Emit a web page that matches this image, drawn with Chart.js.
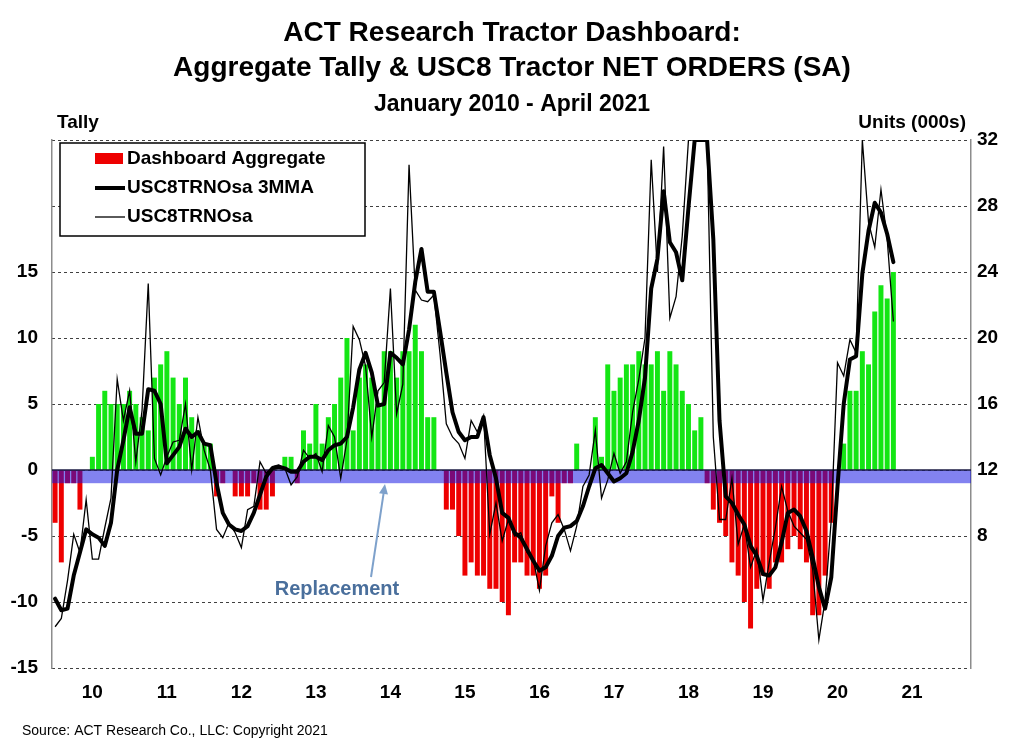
<!DOCTYPE html>
<html>
<head>
<meta charset="utf-8">
<script src="https://cdn.jsdelivr.net/npm/chart.js"></script>
<style>
  html, body { margin: 0; padding: 0; background: #ffffff; }
  #wrap { width: 1024px; height: 744px; }
</style>
</head>
<body>
<div id="wrap"><canvas id="c" width="1024" height="744"></canvas></div>
<script>
// ---- Data ----
const yearLabels = ['10','11','12','13','14','15','16','17','18','19','20','21'];
const firstYear = 2010;
const axisMonths = 148;            // Jan 2010 .. Apr 2022 (axis extent)

// Dashboard Aggregate tally (left axis), Jan 2010 - Apr 2021
const tally = [
  -4,-7,-1,-1,-3,0,1,5,6,5,5,5,
  6,5,4,3,7,8,9,7,5,7,4,3,
  2,2,-2,-1,0,-2,-2,-2,-1,-3,-3,-2,
  0,1,1,-1,3,2,5,2,4,5,7,10,
  3,7,8,7,5,9,9,7,9,9,11,9,
  4,4,0,-3,-3,-5,-8,-7,-8,-8,-9,-9,
  -10,-11,-7,-7,-8,-8,-9,-8,-2,-4,-1,-1,
  2,0,0,4,1,8,6,7,8,8,9,8,
  8,9,6,9,8,6,5,3,4,-1,-3,-4,
  -5,-7,-8,-10,-12,-9,-8,-9,-7,-7,-6,-5,
  -6,-7,-11,-11,-8,-4,0,2,6,6,9,8,
  12,14,13,15
];

// USC8TRNOsa monthly (right axis, 000s units)
const orders = [
  2.5,3.0,5.3,8.1,7.0,10.2,6.6,6.6,8.5,10.3,17.5,15.0,
  16.8,12.5,15.6,23.3,12.7,11.7,12.8,13.7,13.8,16.0,12.0,15.2,
  13.2,12.0,8.4,7.9,8.8,8.2,7.3,9.6,9.8,12.5,11.8,12.2,
  12.3,12.1,11.1,11.6,13.2,12.7,13.0,11.9,14.7,14.0,11.5,13.8,
  20.7,19.9,18.3,14.0,16.8,17.3,23.0,15.4,17.2,30.5,22.9,22.3,
  22.2,22.6,19.0,14.8,14.0,13.6,12.7,15.0,14.3,15.3,8.1,10.0,
  7.7,9.0,8.0,8.2,7.0,6.6,4.7,7.4,8.8,9.3,8.4,7.1,
  8.6,11.0,11.7,14.4,10.3,11.4,13.0,11.8,12.5,15.5,17.5,20.0,
  30.8,24.0,31.6,21.2,22.5,26.2,32,32,32,32,14.0,9.0,
  9.0,11.5,7.5,8.7,6.1,7.2,4.1,6.4,8.5,11.0,9.5,8.6,
  8.2,7.8,6.0,1.7,4.1,9.0,18.5,17.7,19.9,19.1,32.0,27.0,
  25.5,29.0,26.0,21.0
];

// USC8TRNOsa 3MMA (right axis)
const orders3mma = [
  4.2,3.5,3.6,5.6,7.0,8.4,8.1,7.9,7.4,8.8,12.0,13.8,
  15.8,14.2,14.2,16.9,16.8,16.0,12.4,12.9,13.4,14.5,14.0,14.3,
  13.6,13.5,11.2,9.4,8.7,8.4,8.3,8.6,9.4,10.5,11.6,12.1,
  12.2,12.1,11.9,11.9,12.5,12.8,12.8,12.6,13.2,13.5,13.6,14.0,
  15.8,18.1,19.1,17.9,15.9,16.0,19.1,18.8,18.4,20.5,23.4,25.4,
  22.8,22.8,20.4,17.9,15.5,14.3,13.8,14.0,14.0,15.2,12.9,11.5,
  9.4,9.1,8.2,7.9,7.2,6.5,5.9,6.1,6.8,8.0,8.5,8.6,
  8.9,9.8,11.0,12.1,12.3,11.8,11.3,11.5,11.8,13.1,15.0,17.6,
  23.0,24.8,28.9,25.8,25.2,23.5,27.9,32,32,32,26.0,15.0,
  10.4,10.0,9.3,8.7,7.4,6.8,5.7,5.6,6.1,7.6,9.4,9.6,
  9.2,8.3,6.7,4.9,3.6,5.5,11.0,16.0,18.7,18.9,23.9,26.5,
  28.2,27.6,26.3,24.6
];

// ---- Categories (months) ----
const months = [];
for (let k = 0; k < axisMonths; k++) {
  months.push((firstYear + Math.floor(k / 12)) + '-' + String(k % 12 + 1).padStart(2, '0'));
}

const FONT = '"Liberation Sans", Arial, Helvetica, sans-serif';
const RED = '#EE0000';
const GREEN = '#14E614';

const overlay = {
  id: 'overlay',
  afterDatasetDraw(chart, args) {
    if (args.index !== 0) return;
    const { ctx, chartArea: a } = chart;
    const y = chart.scales.y;
    const y0 = y.getPixelForValue(0), y1 = y.getPixelForValue(-1);
    ctx.save();
    ctx.fillStyle = 'rgba(19,19,226,0.53)';
    ctx.fillRect(a.left, y0, a.right - a.left, y1 - y0);
    ctx.strokeStyle = '#1c1c44';
    ctx.lineWidth = 1.5;
    ctx.beginPath(); ctx.moveTo(a.left, y0); ctx.lineTo(a.right, y0); ctx.stroke();
    ctx.restore();
  },
  afterDraw(chart) {
    const ctx = chart.ctx;
    ctx.save();
    ctx.fillStyle = '#000';
    ctx.textBaseline = 'middle';
    ctx.textAlign = 'center';
    ctx.font = 'bold 28px ' + FONT;
    ctx.fillText('ACT Research Tractor Dashboard:', 512, 33);
    ctx.fillText('Aggregate Tally & USC8 Tractor NET ORDERS (SA)', 512, 68);
    ctx.font = 'bold 23px ' + FONT;
    ctx.fillText('January 2010 - April 2021', 512, 105);

    ctx.font = 'bold 19px ' + FONT;
    ctx.textAlign = 'left';
    ctx.fillText('Tally', 57, 123);
    ctx.textAlign = 'right';
    ctx.fillText('Units (000s)', 966, 123);

    // Legend box
    ctx.fillStyle = '#fff';
    ctx.fillRect(60, 143, 305, 93);
    ctx.strokeStyle = '#000';
    ctx.lineWidth = 1.5;
    ctx.strokeRect(60, 143, 305, 93);
    ctx.fillStyle = RED;
    ctx.fillRect(95, 153, 28, 11);
    ctx.strokeStyle = '#000';
    ctx.lineWidth = 4;
    ctx.beginPath(); ctx.moveTo(95, 188); ctx.lineTo(125, 188); ctx.stroke();
    ctx.lineWidth = 1.3;
    ctx.beginPath(); ctx.moveTo(95, 217); ctx.lineTo(125, 217); ctx.stroke();
    ctx.fillStyle = '#000';
    ctx.textAlign = 'left';
    ctx.font = 'bold 19px ' + FONT;
    ctx.fillText('Dashboard Aggregate', 127, 159);
    ctx.fillText('USC8TRNOsa 3MMA', 127, 188);
    ctx.fillText('USC8TRNOsa', 127, 217);

    // Replacement annotation
    ctx.fillStyle = '#4A6F9C';
    ctx.textAlign = 'center';
    ctx.font = 'bold 20px ' + FONT;
    ctx.fillText('Replacement', 337, 589);
    const x1 = 371, y1 = 577, x2 = 385, y2 = 484;
    const dx = x2 - x1, dy = y2 - y1, L = Math.hypot(dx, dy);
    const ux = dx / L, uy = dy / L;
    ctx.strokeStyle = '#7EA1CB';
    ctx.fillStyle = '#7EA1CB';
    ctx.lineWidth = 2;
    ctx.beginPath(); ctx.moveTo(x1, y1); ctx.lineTo(x2 - ux * 8, y2 - uy * 8); ctx.stroke();
    ctx.beginPath();
    ctx.moveTo(x2, y2);
    ctx.lineTo(x2 - ux * 10 - uy * 4.5, y2 - uy * 10 + ux * 4.5);
    ctx.lineTo(x2 - ux * 10 + uy * 4.5, y2 - uy * 10 - ux * 4.5);
    ctx.closePath(); ctx.fill();

    // Source
    ctx.fillStyle = '#000';
    ctx.textAlign = 'left';
    ctx.font = '14px ' + FONT;
    ctx.fillText('Source: ACT Research Co., LLC: Copyright 2021', 22, 731);
    ctx.restore();
  }
};

const tickFont = { family: FONT, size: 19, weight: 'bold' };

new Chart(document.getElementById('c'), {
  type: 'bar',
  data: {
    labels: months,
    datasets: [
      {
        type: 'bar', label: 'Dashboard Aggregate', data: tally, yAxisID: 'y',
        backgroundColor: tally.map(v => v < 0 ? RED : GREEN),
        barPercentage: 0.8, categoryPercentage: 1.0, order: 3
      },
      {
        type: 'line', label: 'USC8TRNOsa 3MMA', data: orders3mma, yAxisID: 'y2',
        borderColor: '#000', borderWidth: 4, pointRadius: 0, tension: 0,
        borderJoinStyle: 'round', borderCapStyle: 'round', fill: false, order: 1, clip: 0
      },
      {
        type: 'line', label: 'USC8TRNOsa', data: orders, yAxisID: 'y2',
        borderColor: '#000', borderWidth: 1.3, pointRadius: 0, tension: 0,
        fill: false, order: 2, clip: 0
      }
    ]
  },
  options: {
    responsive: false,
    animation: false,
    layout: { padding: { top: 140, left: 0, right: 0, bottom: 0 } },
    plugins: { legend: { display: false }, tooltip: { enabled: false }, title: { display: false } },
    scales: {
      x: {
        grid: { display: false, drawTicks: false },
        border: { display: false },
        ticks: {
          autoSkip: false, maxRotation: 0, minRotation: 0, padding: 13,
          font: tickFont, color: '#000',
          callback: (v, i) => (i % 12 === 6 ? yearLabels[Math.floor(i / 12)] : '')
        },
        afterFit: s => { s.height = 76; }
      },
      y: {
        position: 'left', min: -15, max: 25,
        ticks: { stepSize: 5, padding: 14, font: tickFont, color: '#000',
                 callback: v => (v <= 15 ? v : '') },
        grid: { display: false, drawTicks: false },
        border: { display: true, color: '#8c8c8c', width: 1.5 },
        afterFit: s => { s.width = 52; }
      },
      y2: {
        position: 'right', min: 0, max: 32,
        ticks: { stepSize: 4, padding: 6, font: tickFont, color: '#000',
                 callback: v => (v >= 8 ? v : '') },
        grid: { display: true, drawTicks: false, color: '#404040', lineWidth: 1 },
        border: { display: true, color: '#8c8c8c', width: 1.5, dash: [3, 3] },
        afterFit: s => { s.width = 53; }
      }
    }
  },
  plugins: [overlay]
});
</script>
</body>
</html>
